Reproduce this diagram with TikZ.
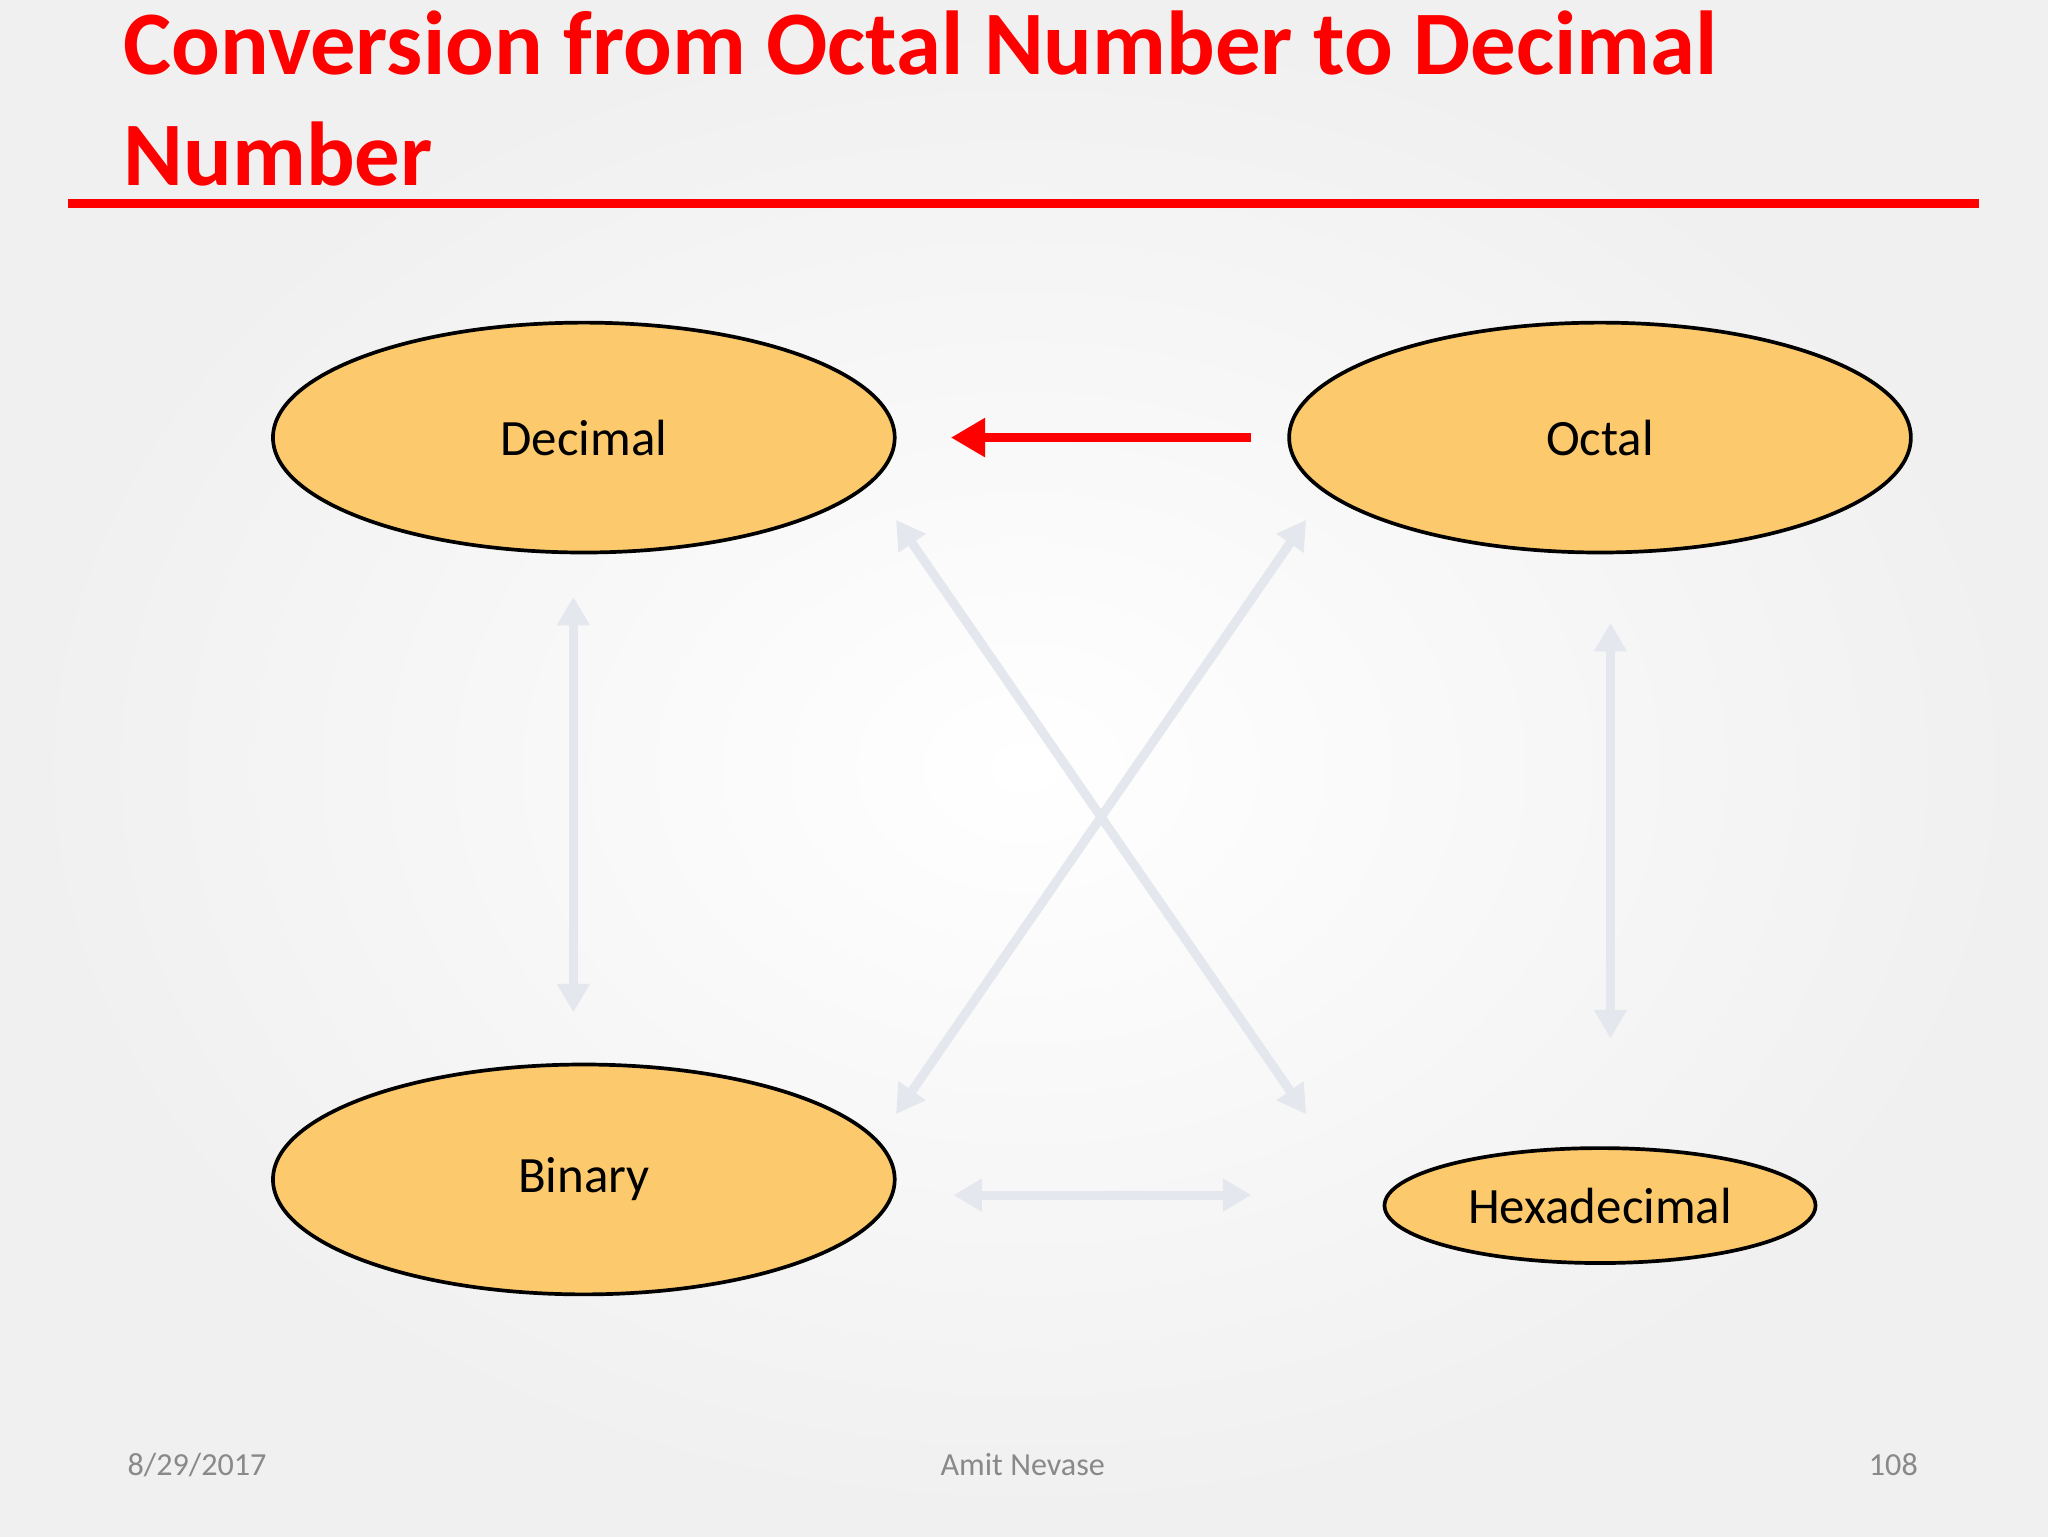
\documentclass[tikz,border=0pt]{standalone}
\usepackage{fontspec}
\setmainfont{Carlito}
\usetikzlibrary{shapes.geometric,arrows.meta}
\definecolor{ored}{RGB}{255,0,0}
\definecolor{oyel}{RGB}{252,202,108}
\definecolor{lgray}{RGB}{228,231,237}
\definecolor{ftgray}{RGB}{137,137,137}
\tikzset{
 oval/.style={ellipse,draw=black,line width=1.3pt,fill=oyel,font=\fontsize{17.9}{21}\selectfont},
 garrow/.style={draw=lgray,line width=3.2pt,{Triangle[length=10pt,width=11pt]}-{Triangle[length=10pt,width=11pt]}},
 foot/.style={font=\fontsize{11.3}{13}\selectfont,text=ftgray}
}
\begin{document}
\begin{tikzpicture}[x=0.459pt,y=-0.459pt]
\useasboundingbox (0,0) rectangle (1568,1176);
\shade[inner color=white,outer color=white!88!gray] (0,0) rectangle (1568,1176);
\node[anchor=base west,text=ored,font=\bfseries\fontsize{31.9}{38}\selectfont,align=left] (title) at (87,57) {Conversion from Octal Number to Decimal};
\node[anchor=base west,text=ored,font=\bfseries\fontsize{31.9}{38}\selectfont] (title2) at (87,142) {Number};
\draw[ored,line width=3pt] (52,156) coordinate (l1) -- (1515,156) coordinate (l2);
\node[oval,minimum width=476*0.459pt,minimum height=176*0.459pt] (dec) at (447,335) {Decimal};
\node[oval,minimum width=476*0.459pt,minimum height=176*0.459pt] (oct) at (1225,335) {Octal};
\node[oval,minimum width=476*0.459pt,minimum height=176*0.459pt] (bin) at (447,903) {Binary};
\node[oval,minimum width=330*0.459pt,minimum height=88*0.459pt] (hex) at (1225,923) {Hexadecimal};
\coordinate (r1) at (958,335); \coordinate (r2) at (728,335);
\draw[ored,line width=3pt,-{Triangle[length=12pt,width=13pt]}] (r1) -- (r2);
\coordinate (a1) at (439,457); \coordinate (a2) at (439,775);
\coordinate (b1) at (1233,477); \coordinate (b2) at (1233,795);
\coordinate (c1) at (686,398); \coordinate (c2) at (1000,853);
\coordinate (d1) at (1000,398); \coordinate (d2) at (686,853);
\coordinate (e1) at (730,915); \coordinate (e2) at (958,915);
\draw[garrow] (a1) -- (a2);
\draw[garrow] (b1) -- (b2);
\draw[garrow] (c1) -- (c2);
\draw[garrow] (d1) -- (d2);
\draw[garrow] (e1) -- (e2);
\node[foot,anchor=base west] (date) at (90,1130) {8/29/2017};
\node[foot,anchor=base] (auth) at (783,1130) {Amit Nevase};
\node[foot,anchor=base east] (pg) at (1476,1130) {108};
\end{tikzpicture}
\end{document}
